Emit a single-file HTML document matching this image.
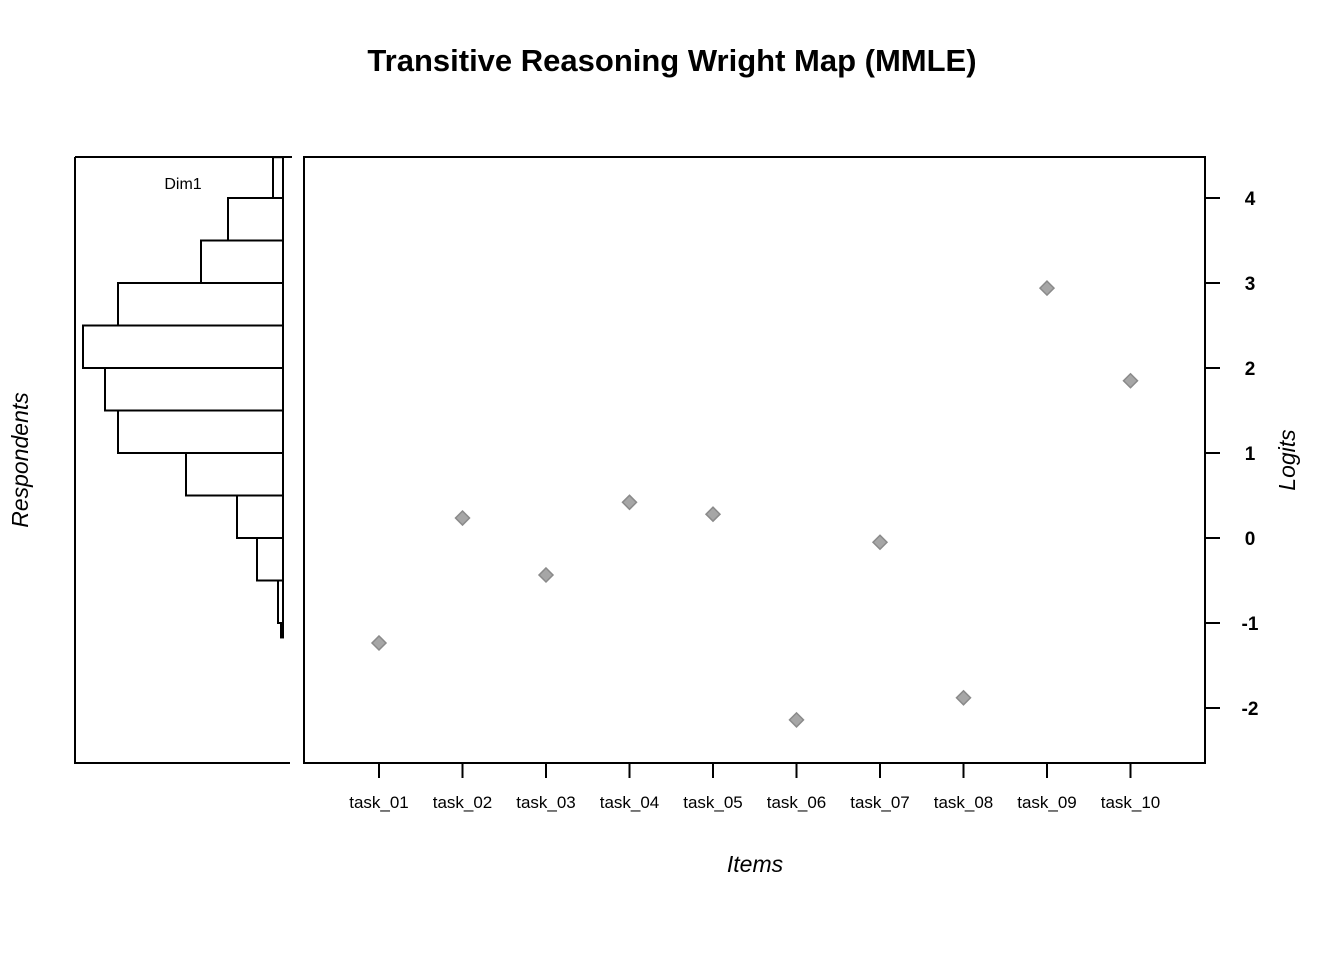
<!DOCTYPE html>
<html><head><meta charset="utf-8"><style>
body{margin:0;background:#fff;}
svg text{font-family:"Liberation Sans",Arial,sans-serif;}
</style></head><body>
<svg width="1344" height="960" xmlns="http://www.w3.org/2000/svg">
<text x="672" y="71" text-anchor="middle" font-size="31" font-weight="bold">Transitive Reasoning Wright Map (MMLE)</text>
<rect x="304" y="157" width="901" height="606" fill="none" stroke="#000" stroke-width="2"/>
<path d="M75,157 H292 M75,157 V763 H290" fill="none" stroke="#000" stroke-width="2"/>
<text x="183" y="189" text-anchor="middle" font-size="16">Dim1</text>
<g id="hist"></g><g id="yaxis"></g><g id="xaxis"></g><g id="pts"></g>
<text x="755" y="872" text-anchor="middle" font-size="23" font-style="italic">Items</text>
<text transform="translate(1295,460) rotate(-90)" text-anchor="middle" font-size="23" font-style="italic">Logits</text>
<text transform="translate(28,460) rotate(-90)" text-anchor="middle" font-size="23" font-style="italic">Respondents</text>
</svg>
<script>
const items=["task_01","task_02","task_03","task_04","task_05","task_06","task_07","task_08","task_09","task_10"];
const difficulties=[-1.235,0.235,-0.435,0.42,0.28,-2.14,-0.05,-1.88,2.94,1.85];
const yTicks=[4,3,2,1,0,-1,-2];
const binLower=[4,3.5,3,2.5,2,1.5,1,0.5,0,-0.5,-1,-1.17];
const binUpper=[4.48,4,3.5,3,2.5,2,1.5,1,0.5,0,-0.5,-1];
const binCounts=[10,55,82,165,200,178,165,97,46,26,5,2];
const NS="http://www.w3.org/2000/svg";
const y=v=>538-v*85;
const x=i=>379+i*83.5;
const hx=c=>283-c;
function mk(tag,attrs,parent){const e=document.createElementNS(NS,tag);for(const k in attrs)e.setAttribute(k,attrs[k]);document.getElementById(parent).appendChild(e);return e;}
binCounts.forEach((c,i)=>{
 const r=mk('rect',{x:hx(c),y:y(binUpper[i]),width:c,height:y(binLower[i])-y(binUpper[i]),fill:'none',stroke:'#000','stroke-width':2},'hist');
 
 
});
yTicks.forEach(t=>{
 const l=mk('line',{x1:1205,x2:1220,y1:y(t),y2:y(t),stroke:'#000','stroke-width':2},'yaxis');
 
 
 const tx=mk('text',{x:1250,y:y(t)+7,'text-anchor':'middle','font-size':19,'font-weight':'bold'},'yaxis');
 tx.textContent=t;
 
 
});
items.forEach((n,i)=>{
 const l=mk('line',{x1:x(i),x2:x(i),y1:763,y2:778,stroke:'#000','stroke-width':2},'xaxis');
 
 
 const tx=mk('text',{x:x(i),y:808,'text-anchor':'middle','font-size':17},'xaxis');
 tx.textContent=n;
 
 
 const cx=x(i),cy=y(difficulties[i]);
 const p=mk('polygon',{points:`${cx},${cy-7} ${cx+7},${cy} ${cx},${cy+7} ${cx-7},${cy}`,fill:'#a6a6a6',stroke:'#8a8a8a','stroke-width':1.5},'pts');
 
 
});
</script>
</body></html>
